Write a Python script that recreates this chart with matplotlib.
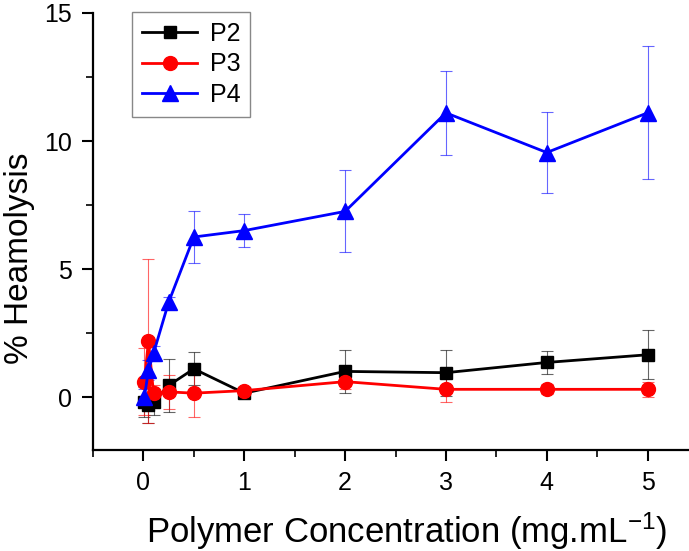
import matplotlib
matplotlib.use("Agg")
import matplotlib.pyplot as plt
from matplotlib.ticker import MultipleLocator

plt.rcParams['font.family'] = ['Liberation Sans', 'DejaVu Sans']

conc = [0.01, 0.05, 0.1, 0.25, 0.5, 1, 2, 3, 4, 5]

p2 = [-0.2, -0.3, -0.2, 0.45, 1.1, 0.15, 1.0, 0.95, 1.35, 1.65]
p2_err = [0.6, 0.7, 0.5, 1.05, 0.65, 0.15, 0.85, 0.9, 0.45, 0.95]

p3 = [0.6, 2.2, 0.15, 0.2, 0.15, 0.25, 0.6, 0.3, 0.3, 0.3]
p3_err = [1.3, 3.2, 0.3, 0.65, 0.95, 0.15, 0.3, 0.5, 0.2, 0.3]

p4 = [0.0, 1.05, 1.7, 3.7, 6.25, 6.5, 7.25, 11.1, 9.55, 11.1]
p4_err = [0.3, 0.4, 0.3, 0.2, 1.0, 0.65, 1.6, 1.65, 1.6, 2.6]

series = [("P2", p2, p2_err, "black", "s", 8.5),
          ("P3", p3, p3_err, "#ff0000", "o", 10),
          ("P4", p4, p4_err, "#0000ff", "^", 11)]

W, H = 689, 551
fig = plt.figure(figsize=(W / 100, H / 100), dpi=100)
ax = fig.add_axes([93 / W, 101 / H, (698 - 93) / W, (450 - 13) / H])

for name, y, e, c, m, ms in series:
    ax.errorbar(conc, y, yerr=e, fmt='none', ecolor=c, elinewidth=0.8,
                capsize=4, capthick=0.8, alpha=0.6, zorder=2)
    ax.plot(conc, y, color=c, marker=m, markersize=ms, linewidth=2.0,
            label=name, zorder=3)

ax.set_xlim(-0.5, 5.5)
ax.set_ylim(-2.07, 15)
ax.xaxis.set_major_locator(MultipleLocator(1))
ax.xaxis.set_minor_locator(MultipleLocator(0.5))
ax.yaxis.set_major_locator(MultipleLocator(5))
ax.yaxis.set_minor_locator(MultipleLocator(2.5))
for s in ['top', 'right']:
    ax.spines[s].set_visible(False)
for s in ['left', 'bottom']:
    ax.spines[s].set_linewidth(1.6)
ax.tick_params(which='major', direction='out', length=8, width=1.5, labelsize=18, pad=7)
ax.tick_params(which='minor', direction='out', length=5, width=1.2)

ax.set_xlabel("Polymer Concentration (mg.mL$\\mathregular{^{-1}}$)", fontsize=25,
              va='baseline')
ax.xaxis.set_label_coords((407 - 93) / (698 - 93), (450 - 543) / (450 - 13))
ax.set_ylabel("% Heamolysis", fontsize=24)
ax.yaxis.set_label_coords((35 - 93) / (698 - 93), (450 - 258) / (450 - 13))

leg = ax.legend(loc='upper left', bbox_to_anchor=(132 / W, 1 - 12 / H),
                bbox_transform=fig.transFigure, borderaxespad=0, fontsize=18,
                fancybox=False, edgecolor='#888888', framealpha=1,
                handlelength=2.2, handletextpad=0.5, borderpad=0.4, labelspacing=0.25)
leg.get_frame().set_linewidth(1.0)

fig.savefig("out.png", dpi=100)
